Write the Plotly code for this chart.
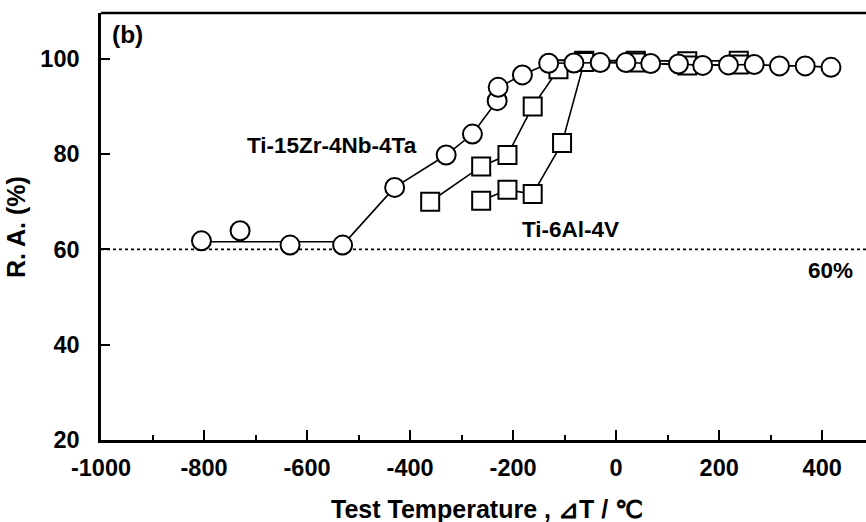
import plotly.graph_objects as go

# Reduction of area vs. test temperature (ΔT)
zr_temp = [-805, -730, -633, -531, -430, -330, -279, -231, -229, -182, -131, -82,
           -31, 19, 67, 121, 168, 218, 268, 317, 367, 417]
zr_ra = [61.8, 63.9, 60.9, 60.9, 73.0, 79.8, 84.2, 91.2, 94.0, 96.6, 99.05, 99.1,
         99.2, 99.2, 99.0, 98.9, 98.6, 98.7, 98.8, 98.5, 98.5, 98.2]

# plateau line drawn across the low-temperature points
plateau_temp = [-805, -531]
plateau_ra = [61.6, 61.6]

# Ti-6Al-4V, two test series
tiv_a_temp = [-361, -262, -211, -162, -112, -62, 38, 138, 238]
tiv_a_ra = [70.0, 77.4, 79.8, 90.0, 97.8, 99.6, 99.6, 99.5, 99.6]
tiv_b_temp = [-262, -211, -162, -105, -62, 38, 138, 238]
tiv_b_ra = [70.2, 72.5, 71.6, 82.3, 99.3, 99.2, 98.6, 98.8]

ref_level = 60
x_ticks = [-1000, -800, -600, -400, -200, 0, 200, 400]
x_tick_text = ["-1000", "-800", "-600", "-400", "-200", "0", "200", "400"]
y_ticks = [20, 40, 60, 80, 100]

FONT = "Liberation Sans, Arial, sans-serif"
line_style = dict(color="black", width=1.6)
sq_marker = dict(symbol="square", size=18, color="white",
                 line=dict(color="black", width=2))
ci_marker = dict(symbol="circle", size=19, color="white",
                 line=dict(color="black", width=2))

fig = go.Figure()

# 60 % reference line
fig.add_trace(go.Scatter(x=[-1000, 485], y=[ref_level, ref_level], mode="lines",
                         line=dict(color="black", width=1.6, dash="dot"),
                         hoverinfo="skip"))

for tx, ty in [(tiv_a_temp, tiv_a_ra), (tiv_b_temp, tiv_b_ra)]:
    fig.add_trace(go.Scatter(x=tx, y=ty, mode="lines+markers",
                             line=line_style, marker=sq_marker))

fig.add_trace(go.Scatter(x=plateau_temp, y=plateau_ra, mode="lines",
                         line=line_style))
fig.add_trace(go.Scatter(x=zr_temp[3:], y=zr_ra[3:], mode="lines",
                         line=line_style))
fig.add_trace(go.Scatter(x=zr_temp, y=zr_ra, mode="markers", marker=ci_marker))

tick_font = dict(family=FONT, size=23.5, color="black", weight="bold")
lab_font = dict(family=FONT, size=22.5, color="black", weight="bold")
panel_font = dict(family=FONT, size=24.5, color="black", weight="bold")
title_font = dict(family=FONT, size=25, color="black", weight="bold")

fig.update_layout(
    width=866, height=522,
    margin=dict(l=101, r=0, t=13, b=82),
    paper_bgcolor="white", plot_bgcolor="white",
    showlegend=False,
    xaxis=dict(range=[-1000, 485], tickvals=x_ticks, ticktext=x_tick_text,
               ticks="inside", ticklen=10,
               tickwidth=2, tickcolor="black", showgrid=False, zeroline=False,
               showline=True, linecolor="black", linewidth=2.5,
               tickfont=tick_font, ticklabelstandoff=5,
               minor=dict(dtick=100, tick0=0, ticks="inside", ticklen=5,
                          tickwidth=2, tickcolor="black", showgrid=False)),
    yaxis=dict(range=[20, 109.6], tickvals=y_ticks, ticks="inside", ticklen=9,
               tickwidth=2, tickcolor="black", showgrid=False, zeroline=False,
               showline=True, linecolor="black", linewidth=2.5,
               tickfont=tick_font, ticklabelstandoff=14),
    shapes=[dict(type="line", xref="paper", yref="paper", x0=0, x1=1, y0=1, y1=1,
                 line=dict(color="black", width=2.5))],
    annotations=[
        dict(text="(b)", x=-983, y=105.0, xref="x", yref="y", xanchor="left",
             yanchor="middle", showarrow=False, font=panel_font),
        dict(text="Ti-15Zr-4Nb-4Ta", x=-551, y=81.7, xref="x", yref="y",
             showarrow=False, font=lab_font),
        dict(text="Ti-6Al-4V", x=-89, y=64.1, xref="x", yref="y",
             showarrow=False, font=lab_font),
        dict(text="60%", x=417, y=55.5, xref="x", yref="y",
             showarrow=False, font=lab_font),
        dict(text="Test Temperature , ⊿T / ℃", x=0.505, y=-0.1616, xref="paper",
             yref="paper", xanchor="center", yanchor="middle", showarrow=False,
             font=title_font),
        dict(text="R. A. (%)", x=-0.111, y=0.499, xref="paper", yref="paper",
             textangle=-90, xanchor="center", yanchor="middle", showarrow=False,
             font=title_font),
    ],
)

fig.write_html("out.html")
